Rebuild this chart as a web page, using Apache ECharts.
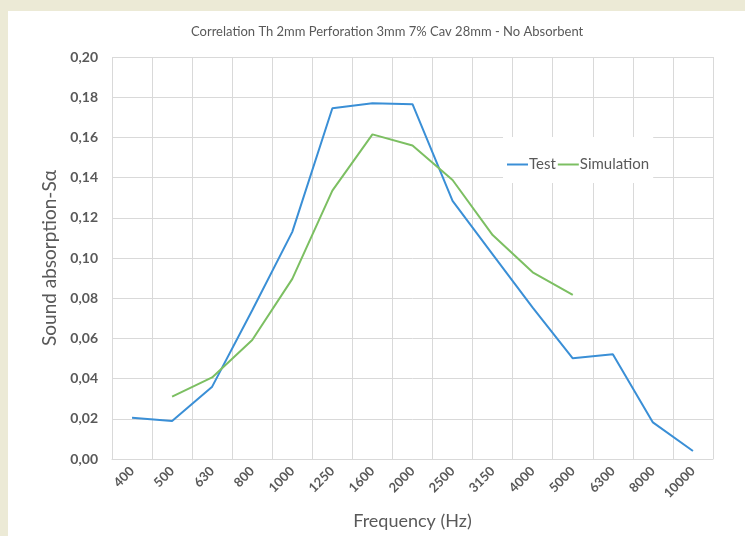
<!DOCTYPE html>
<html>
<head>
<meta charset="utf-8">
<script src="https://cdn.jsdelivr.net/npm/echarts@6/dist/echarts.min.js"></script>
<style>
  html, body { margin: 0; padding: 0; background: #ecead6; }
  #chartWrap { width: 745px; height: 536px; }
</style>
</head>
<body>
<div id="chartWrap"></div>
<script>
// 频率分类
var categories = ['400', '500', '630', '800', '1000', '1250', '1600', '2000', '2500', '3150', '4000', '5000', '6300', '8000', '10000'];
// 测试值
var testValues = [0.0205, 0.0189, 0.036, 0.074, 0.113, 0.1745, 0.177, 0.1765, 0.1284, 0.1018, 0.0753, 0.0501, 0.0521, 0.0182, 0.004];
// 模拟值
var simValues = [null, 0.031, 0.0406, 0.0592, 0.0896, 0.1335, 0.1615, 0.156, 0.1388, 0.1114, 0.0929, 0.0816, null, null, null];
var yTicks = [0, 0.02, 0.04, 0.06, 0.08, 0.10, 0.12, 0.14, 0.16, 0.18, 0.20];

var dom = document.getElementById('chartWrap');
var myChart = echarts.init(dom);
var textColor = '#595959';
var gridColor = '#d9d9d9';
var font = 'Lato, "Open Sans", sans-serif';

var option = {
    backgroundColor: '#ecead6',
    textStyle: { fontFamily: font },
    graphic: [{
        type: 'rect',
        z: -10,
        shape: { x: 8, y: 11, width: 737, height: 525 },
        style: { fill: '#ffffff' }
    }],
    title: {
        text: 'Correlation Th 2mm Perforation 3mm 7% Cav 28mm - No Absorbent',
        left: 186,
        top: 20,
        textStyle: { fontSize: 13, fontWeight: 'normal', color: textColor, fontFamily: font }
    },
    legend: {
        data: ['Test', 'Simulation'],
        left: 503,
        top: 137,
        backgroundColor: '#ffffff',
        padding: [20, 4, 11, 4],
        itemWidth: 21,
        itemHeight: 2,
        itemGap: 2,
        icon: 'rect',
        textStyle: { fontSize: 15, color: textColor, fontFamily: font, padding: [0, 0, 0, -4] }
    },
    grid: {
        left: 112,
        right: 32,
        top: 57,
        bottom: 77,
        outerBoundsMode: 'none',
        containLabel: false
    },
    xAxis: {
        type: 'category',
        data: categories,
        name: 'Frequency (Hz)',
        nameLocation: 'middle',
        nameGap: 53,
        nameTextStyle: { fontSize: 18, color: textColor, fontFamily: font },
        axisLine: { lineStyle: { color: gridColor } },
        axisTick: { show: false },
        axisLabel: { rotate: 45, margin: 10, fontSize: 13, fontWeight: 'bold', color: textColor, fontFamily: font },
        splitLine: { show: true, lineStyle: { color: gridColor, width: 1 } }
    },
    yAxis: {
        type: 'value',
        min: 0,
        max: 0.2,
        interval: 0.02,
        name: 'Sound absorption-Sα',
        nameLocation: 'middle',
        nameGap: 50,
        nameTextStyle: { fontSize: 19, color: textColor, fontFamily: font },
        axisLine: { show: false },
        axisTick: { show: false },
        axisLabel: {
            margin: 14,
            fontSize: 14,
            fontWeight: 'bold',
            color: textColor,
            fontFamily: font,
            formatter: function (v) { return v.toFixed(2).replace('.', ','); }
        },
        splitLine: { lineStyle: { color: gridColor, width: 1 } }
    },
    series: [{
        name: 'Test',
        type: 'line',
        data: testValues,
        showSymbol: false,
        symbol: 'none',
        lineStyle: { color: '#3a8fd6', width: 2 },
        itemStyle: { color: '#3a8fd6' }
    }, {
        name: 'Simulation',
        type: 'line',
        data: simValues,
        showSymbol: false,
        symbol: 'none',
        connectNulls: false,
        lineStyle: { color: '#7cbf62', width: 2 },
        itemStyle: { color: '#7cbf62' }
    }]
};
if (option && typeof option === "object") {
    myChart.setOption(option, true);
}
</script>
</body>
</html>
